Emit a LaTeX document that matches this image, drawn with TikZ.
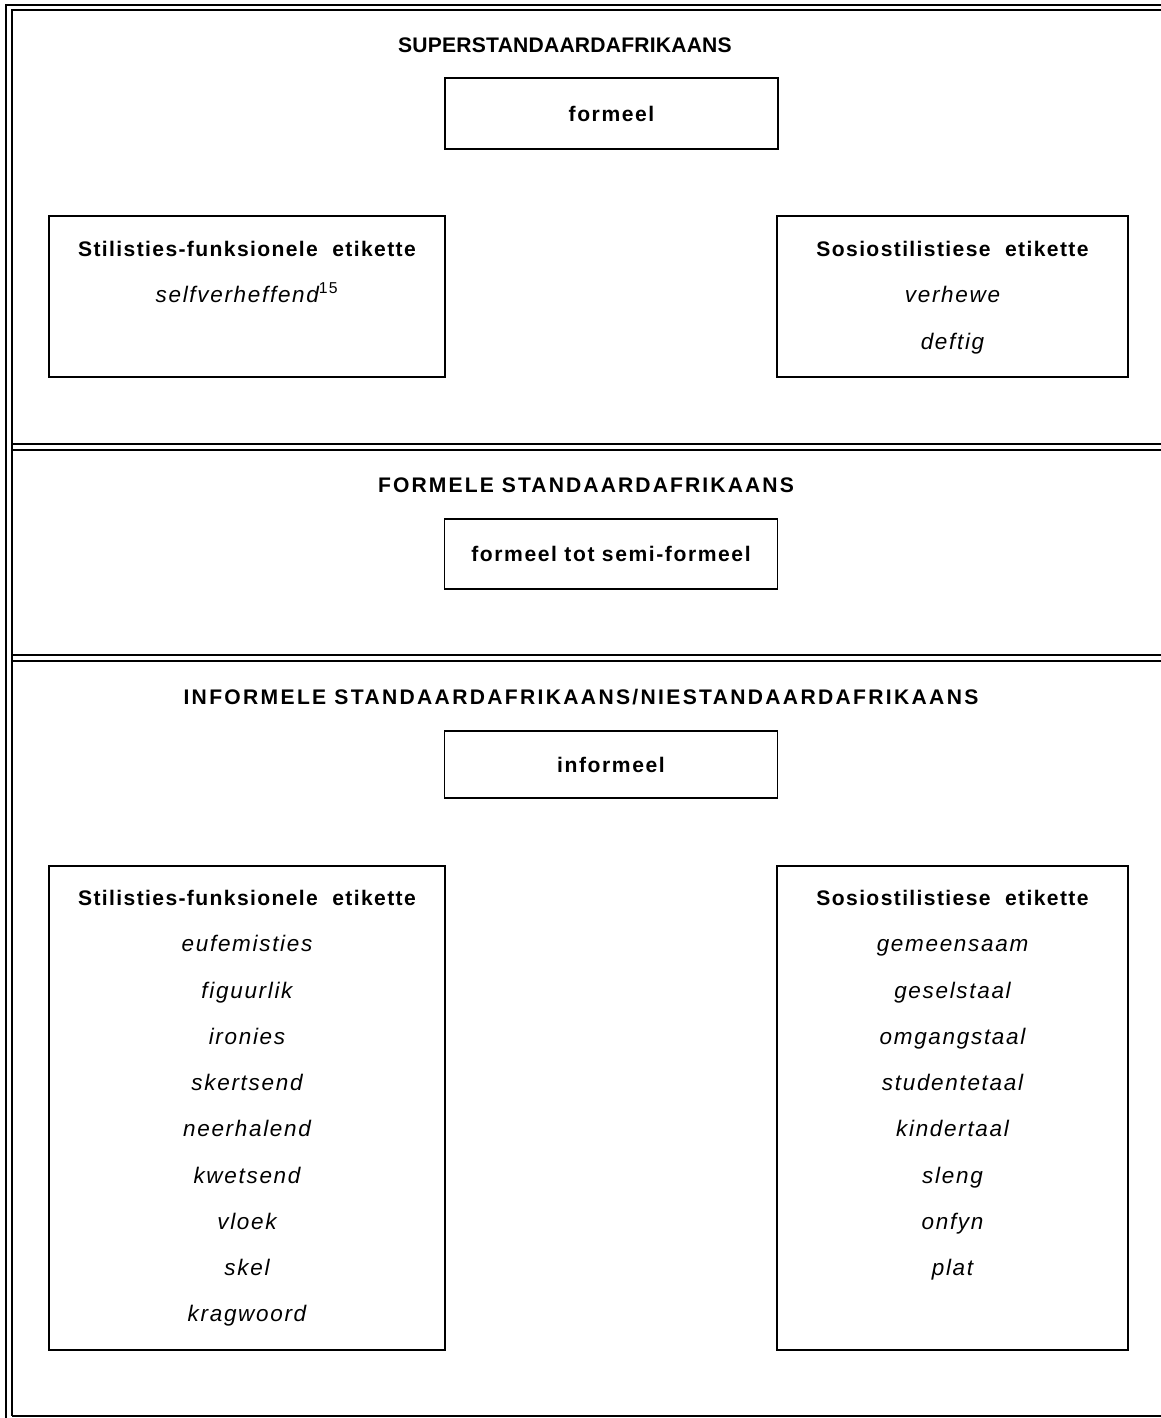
\documentclass[tikz,border=0pt]{standalone}
\usepackage{fontspec}
\setmainfont{Liberation Sans}
\usetikzlibrary{positioning}

\begin{document}
\begin{tikzpicture}[x=0.025cm,y=-0.025cm,node distance=1.156cm,
  thick line/.style={line width=2pt},
  thin line/.style={line width=1.2pt},
  txt/.style={inner sep=0pt,text height=10.7pt,text depth=0pt},
  title/.style={txt,font=\fontsize{15}{18}\selectfont\bfseries\addfontfeature{LetterSpace=#1}},
  head/.style={txt,font=\fontsize{15}{18}\selectfont\bfseries\addfontfeature{LetterSpace=6.5}},
  item/.style={txt,font=\fontsize{16}{19}\selectfont\itshape\addfontfeature{LetterSpace=7.5}},
  reg box/.style={draw,line width=1.1pt,minimum width=8.325cm,
    font=\fontsize{15}{18}\selectfont\bfseries\addfontfeature{LetterSpace=7.5}},
  list box/.style={draw,line width=1.1pt}]

  \useasboundingbox (0,0) rectangle (1161,1418);

  % frame
  \draw[thin line] (6,1418) -- (6,5) -- (1161,5);
  \draw[thick line] (1161,10) -- (12,10) -- (12,1416);
  \draw[thin line] (12,444) -- (1161,444);
  \draw[thick line] (12,450) -- (1161,450);
  \draw[thin line] (12,655) -- (1161,655);
  \draw[thick line] (12,661) -- (1161,661);
  \draw[thin line] (12,1416) -- (1161,1416);

  % superstandaard
  \node[title=1] (super) at (565,45) {SUPERSTANDAARDAFRIKAANS};
  \node[reg box,minimum height=1.775cm] (f1) at (611.5,113.5) {formeel};

  \node[list box,minimum width=9.9cm,minimum height=4.025cm] (sfbox1) at (247,296.5) {};
  \node[head] (sf1) at (247,249) {Stilisties-funksionele\ \ etikette};
  \node[item] (sf1a) [below of=sf1] {selfverheffend\textsuperscript{\upshape 15}};

  \node[list box,minimum width=8.775cm,minimum height=4.025cm] (ssbox1) at (952.5,296.5) {};
  \node[head] (ss1) at (952.5,249) {Sosiostilistiese\ \ etikette};
  \node[item] (ss1a) [below of=ss1] {verhewe};
  \node[item] (ss1b) [below of=ss1a] {deftig};

  % formeel
  \node[title=10] (form) at (586,485) {FORMELE STANDAARDAFRIKAANS};
  \node[reg box,minimum height=1.75cm] (f2) at (611,554) {formeel tot semi-formeel};

  % informeel
  \node[title=11] (inform) at (581,697) {INFORMELE STANDAARDAFRIKAANS/NIESTANDAARDAFRIKAANS};
  \node[reg box,minimum height=1.675cm] (f3) at (611,764.5) {informeel};

  \node[list box,minimum width=9.9cm,minimum height=12.1cm] (sfbox2) at (247,1108) {};
  \node[head] (sf2) at (247,898) {Stilisties-funksionele\ \ etikette};
  \node[item] (sf2a) [below of=sf2] {eufemisties};
  \node[item] (sf2b) [below of=sf2a] {figuurlik};
  \node[item] (sf2c) [below of=sf2b] {ironies};
  \node[item] (sf2d) [below of=sf2c] {skertsend};
  \node[item] (sf2e) [below of=sf2d] {neerhalend};
  \node[item] (sf2f) [below of=sf2e] {kwetsend};
  \node[item] (sf2g) [below of=sf2f] {vloek};
  \node[item] (sf2h) [below of=sf2g] {skel};
  \node[item] (sf2i) [below of=sf2h] {kragwoord};

  \node[list box,minimum width=8.775cm,minimum height=12.1cm] (ssbox2) at (952.5,1108) {};
  \node[head] (ss2) at (952.5,898) {Sosiostilistiese\ \ etikette};
  \node[item] (ss2a) [below of=ss2] {gemeensaam};
  \node[item] (ss2b) [below of=ss2a] {geselstaal};
  \node[item] (ss2c) [below of=ss2b] {omgangstaal};
  \node[item] (ss2d) [below of=ss2c] {studentetaal};
  \node[item] (ss2e) [below of=ss2d] {kindertaal};
  \node[item] (ss2f) [below of=ss2e] {sleng};
  \node[item] (ss2g) [below of=ss2f] {onfyn};
  \node[item] (ss2h) [below of=ss2g] {plat};
\end{tikzpicture}
\end{document}
